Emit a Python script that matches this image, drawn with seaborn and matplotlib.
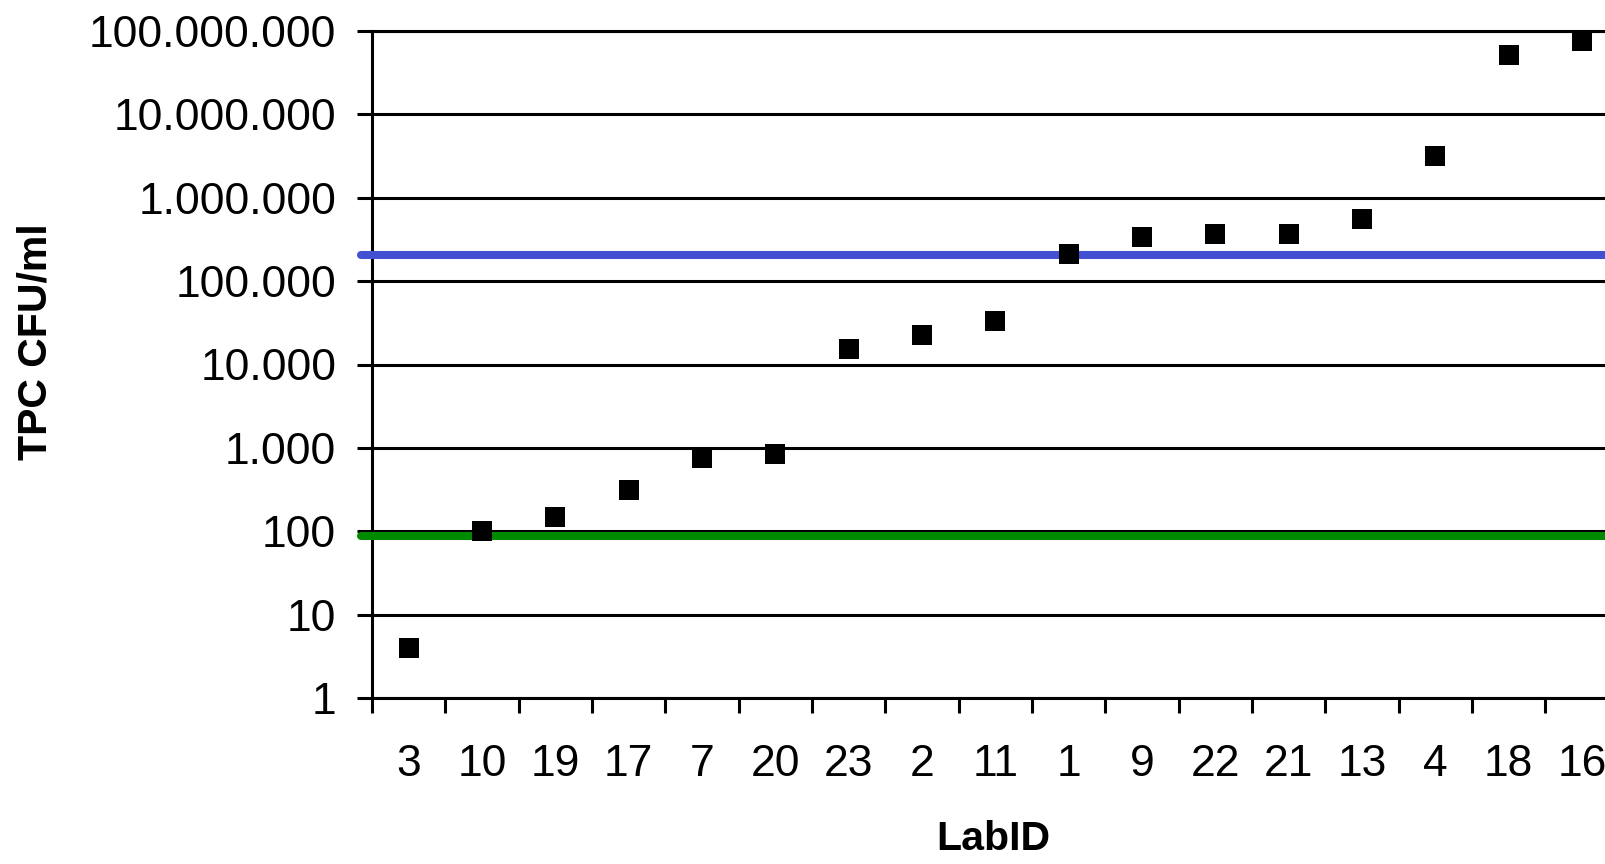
import numpy as np
import pandas as pd
import seaborn as sns
import matplotlib
matplotlib.use("Agg")
import matplotlib.pyplot as plt
from matplotlib.ticker import FixedLocator, FuncFormatter, NullLocator

# Laboratory IDs, sorted by result
lab_ids = ["3", "10", "19", "17", "7", "20", "23", "2", "11", "1",
           "9", "22", "21", "13", "4", "18", "16"]
# Total plate count, CFU/ml
tpc_values = [4, 100, 148, 315, 760, 850, 15200, 22600, 33500, 211000,
              340000, 371000, 370000, 551000, 3180000, 52000000, 76000000]

# reference lines
upper_limit = 205000
lower_limit = 87
upper_color = "#4450D2"
lower_color = "#008A00"

df = pd.DataFrame({"LabID": lab_ids, "TPC": tpc_values})

sns.set_style("white")
plt.rcParams["font.family"] = ["Liberation Sans", "DejaVu Sans"]
plt.rcParams["text.color"] = "black"
plt.rcParams["axes.labelcolor"] = "black"
plt.rcParams["xtick.color"] = "black"
plt.rcParams["ytick.color"] = "black"

fig = plt.figure(figsize=(16.06, 8.64), dpi=100)
ax = fig.add_axes([372 / 1606, 166 / 864, 1246.5 / 1606, 667 / 864])

sns.scatterplot(data=df, x="LabID", y="TPC", marker="s", s=228,
                color="black", edgecolor="black", linewidth=0,
                ax=ax, zorder=5, clip_on=False, legend=False)

ax.set_yscale("log")
ax.set_ylim(1, 1e8)
ax.set_xlim(-0.5, len(lab_ids) - 0.5)

# horizontal grid at each decade
ax.yaxis.set_major_locator(FixedLocator([10.0 ** k for k in range(9)]))
ax.yaxis.set_minor_locator(NullLocator())
ax.yaxis.set_major_formatter(FuncFormatter(lambda v, p: f"{int(round(v)):,}".replace(",", ".")))
ax.grid(axis="y", color="black", linewidth=2.2)
ax.grid(axis="x", visible=False)

for lim, col in [(upper_limit, upper_color), (lower_limit, lower_color)]:
    ax.axhline(lim, xmin=-0.009, xmax=1, color=col, linewidth=5.8,
               clip_on=False, zorder=4)

# x ticks: marks on category boundaries, labels on the centres
pos = np.arange(len(lab_ids))
ax.set_xticks(pos)
ax.set_xticklabels(lab_ids)
ax.set_xticks(np.append(pos - 0.5, pos[-1] + 0.5), minor=True)
ax.tick_params(axis="x", which="major", length=0, pad=33, labelsize=32)
ax.tick_params(axis="x", which="minor", length=10.8, width=2.2,
               direction="out", bottom=True)
ax.tick_params(axis="y", which="major", length=10.8, width=2.2,
               direction="out", left=True, pad=15, labelsize=32)

for side in ["left", "bottom", "top"]:
    ax.spines[side].set_color("black")
    ax.spines[side].set_linewidth(2.2)
ax.spines["right"].set_visible(False)

label_font = dict(family=["Liberation Sans Narrow", "Liberation Sans"],
                  fontsize=29.5, fontweight="bold", color="black")
ax.set_xlabel("LabID", va="center", **label_font)
ax.set_ylabel("TPC CFU/ml", va="center", **label_font)
ax.xaxis.set_label_coords((993 - 372) / 1246.5, (698 - 839.5) / 667)
ax.yaxis.set_label_coords((35 - 372) / 1246.5, (698 - 342) / 667)

fig.savefig("out.png", dpi=100)
